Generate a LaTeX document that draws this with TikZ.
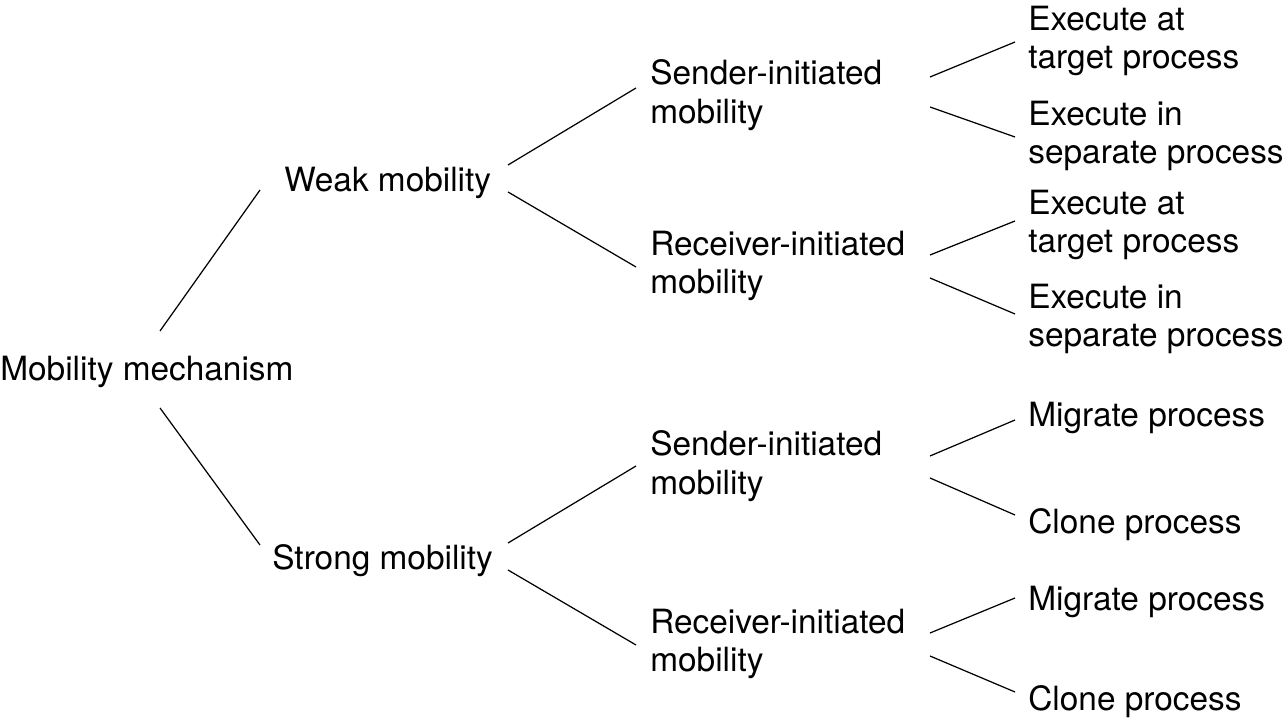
\documentclass[tikz,border=0pt]{standalone}
\usepackage{fontspec}
\setmainfont{TeX Gyre Heros}
\usetikzlibrary{calc}
\tikzset{
  lbl/.style={inner sep=0pt, anchor=west, align=left, font=\fontsize{19}{22}\selectfont},
  link/.style={line width=0.7pt, black}
}
\begin{document}
\begin{tikzpicture}
    \useasboundingbox (0,0) rectangle (25.66,-14.36);

    % Raiz
    \node[lbl] (mech) at (0,-7.44) {Mobility mechanism};

    % Nivel 1
    \node[lbl] (weak)   at (5.68,-3.66)  {Weak mobility};
    \node[lbl] (strong) at (5.44,-11.22) {Strong mobility};

    % Nivel 2
    \node[lbl] (wsend) at (13.0,-1.90)  {Sender-initiated\\mobility};
    \node[lbl] (wrecv) at (13.0,-5.32)  {Receiver-initiated\\mobility};
    \node[lbl] (ssend) at (13.0,-9.32)  {Sender-initiated\\mobility};
    \node[lbl] (srecv) at (13.0,-12.88) {Receiver-initiated\\mobility};

    % Hojas
    \node[lbl] (wsat) at (20.56,-0.82)  {Execute at\\target process};
    \node[lbl] (wsin) at (20.56,-2.72)  {Execute in\\separate process};
    \node[lbl] (wrat) at (20.56,-4.50)  {Execute at\\target process};
    \node[lbl] (wrin) at (20.56,-6.38)  {Execute in\\separate process};
    \node[lbl] (ssmig) at (20.56,-8.36)  {Migrate process};
    \node[lbl] (sscln) at (20.56,-10.50) {Clone process};
    \node[lbl] (srmig) at (20.56,-12.04) {Migrate process};
    \node[lbl] (srcln) at (20.56,-14.04) {Clone process};

    % Conexiones raiz -> nivel 1
    \draw[link] ($(mech.west)+(3.2,0.82)$) -- ($(weak.west)+(-0.48,-0.14)$);
    \draw[link] ($(mech.west)+(3.2,-0.72)$) -- ($(strong.west)+(-0.24,0.32)$);

    % Conexiones nivel 1 -> nivel 2
    \draw[link] ($(weak.west)+(4.48,0.36)$)    -- ($(wsend.west)+(-0.28,0.14)$);
    \draw[link] ($(weak.west)+(4.48,-0.18)$)   -- ($(wrecv.west)+(-0.28,-0.02)$);
    \draw[link] ($(strong.west)+(4.72,0.36)$)  -- ($(ssend.west)+(-0.28,0)$);
    \draw[link] ($(strong.west)+(4.72,-0.18)$) -- ($(srecv.west)+(-0.28,-0.02)$);

    % Conexiones nivel 2 -> hojas
    \foreach \from/\up/\down/\dy/\ey/\fy in {
        wsend/wsat/wsin/0.36/-0.02/-0.02,
        wrecv/wrat/wrin/0.22/0.08/0.1,
        ssend/ssmig/sscln/0.2/-0.04/0.2,
        srecv/srmig/srcln/0.22/0.08/0.2
    } {
        \draw[link] ($(\from.west)+(5.6,\dy)$) -- ($(\up.west)+(-0.26,\ey)$);
        \draw[link] ($(\from.west)+(5.6,-0.24)$) -- ($(\down.west)+(-0.26,\fy)$);
    }
\end{tikzpicture}
\end{document}
